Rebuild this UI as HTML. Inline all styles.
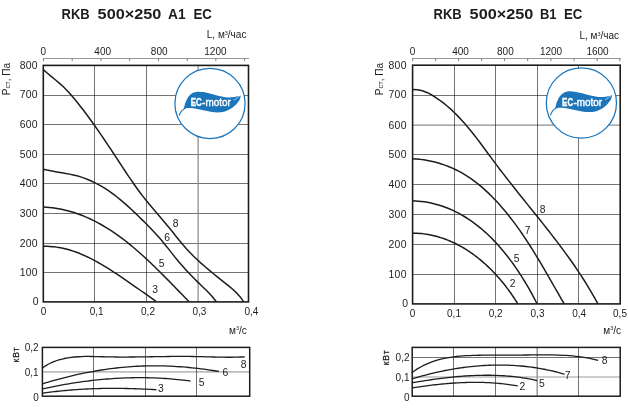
<!DOCTYPE html>
<html lang="ru"><head><meta charset="utf-8"><title>RKB 500×250 EC</title>
<style>html,body{margin:0;padding:0;background:#fff}body{width:628px;height:409px;overflow:hidden}svg{display:block}text{font-family:"Liberation Sans", sans-serif}</style>
</head><body>
<svg width="628" height="409" viewBox="0 0 628 409">
<rect width="628" height="409" fill="#fff"/>
<text y="19" font-size="14.4" font-weight="bold" fill="#1d1d1b"><tspan x="61.60" textLength="28.1" lengthAdjust="spacingAndGlyphs">RKB</tspan> <tspan x="97.60" textLength="63.8" lengthAdjust="spacingAndGlyphs">500×250</tspan> <tspan x="168.00" textLength="17.6" lengthAdjust="spacingAndGlyphs">A1</tspan> <tspan x="193.50" textLength="18.4" lengthAdjust="spacingAndGlyphs">EC</tspan></text>
<text x="246.40" y="38.30" font-size="10" text-anchor="end" font-weight="normal" fill="#1d1d1b">L, м<tspan font-size="5.5" dy="-3.2">3</tspan><tspan dy="3.2">/час</tspan></text>
<line x1="42.90" y1="58.50" x2="249.10" y2="58.50" stroke="#7a7a7a" stroke-width="0.8"/>
<line x1="43.50" y1="58.50" x2="43.50" y2="61.20" stroke="#707070" stroke-width="0.9"/>
<line x1="72.20" y1="58.50" x2="72.20" y2="61.20" stroke="#707070" stroke-width="0.9"/>
<line x1="101.00" y1="58.50" x2="101.00" y2="61.20" stroke="#707070" stroke-width="0.9"/>
<line x1="129.70" y1="58.50" x2="129.70" y2="61.20" stroke="#707070" stroke-width="0.9"/>
<line x1="158.50" y1="58.50" x2="158.50" y2="61.20" stroke="#707070" stroke-width="0.9"/>
<line x1="187.20" y1="58.50" x2="187.20" y2="61.20" stroke="#707070" stroke-width="0.9"/>
<line x1="215.80" y1="58.50" x2="215.80" y2="61.20" stroke="#707070" stroke-width="0.9"/>
<line x1="244.50" y1="58.50" x2="244.50" y2="61.20" stroke="#707070" stroke-width="0.9"/>
<text x="43.30" y="55.00" font-size="10" text-anchor="middle" font-weight="normal" fill="#1d1d1b">0</text>
<text x="102.70" y="55.00" font-size="10" text-anchor="middle" font-weight="normal" fill="#1d1d1b">400</text>
<text x="159.20" y="55.00" font-size="10" text-anchor="middle" font-weight="normal" fill="#1d1d1b">800</text>
<text x="215.40" y="55.00" font-size="10" text-anchor="middle" font-weight="normal" fill="#1d1d1b">1200</text>
<line x1="43.30" y1="95.50" x2="248.50" y2="95.50" stroke="#000" stroke-width="1" stroke-opacity="0.55"/>
<line x1="43.30" y1="124.50" x2="248.50" y2="124.50" stroke="#000" stroke-width="1" stroke-opacity="0.55"/>
<line x1="43.30" y1="154.50" x2="248.50" y2="154.50" stroke="#000" stroke-width="1" stroke-opacity="0.55"/>
<line x1="43.30" y1="183.50" x2="248.50" y2="183.50" stroke="#000" stroke-width="1" stroke-opacity="0.55"/>
<line x1="43.30" y1="213.50" x2="248.50" y2="213.50" stroke="#000" stroke-width="1" stroke-opacity="0.55"/>
<line x1="43.30" y1="243.50" x2="248.50" y2="243.50" stroke="#000" stroke-width="1" stroke-opacity="0.55"/>
<line x1="43.30" y1="272.50" x2="248.50" y2="272.50" stroke="#000" stroke-width="1" stroke-opacity="0.55"/>
<line x1="94.50" y1="65.40" x2="94.50" y2="301.90" stroke="#000" stroke-width="1" stroke-opacity="0.55"/>
<line x1="146.50" y1="65.40" x2="146.50" y2="301.90" stroke="#000" stroke-width="1" stroke-opacity="0.55"/>
<line x1="198.10" y1="65.40" x2="198.10" y2="301.90" stroke="#8f8f8f" stroke-width="1.3"/>
<g>
<circle cx="210.00" cy="103.40" r="35.10" fill="#fff" stroke="#1b75bb" stroke-width="1.25"/>
<g transform="translate(210.00 103.40)">
<path d="M-26.30 5.60C-26.03 4.60 -25.47 1.62 -24.70 -0.40C-23.93 -2.42 -22.92 -4.85 -21.70 -6.50C-20.48 -8.15 -18.92 -9.43 -17.40 -10.30C-15.88 -11.17 -14.42 -11.53 -12.60 -11.70C-10.78 -11.87 -8.72 -11.63 -6.50 -11.30C-4.28 -10.97 -1.72 -10.30 0.70 -9.70C3.12 -9.10 5.57 -8.28 8.00 -7.70C10.43 -7.12 12.83 -6.47 15.25 -6.20C17.67 -5.93 20.38 -5.95 22.50 -6.10C24.62 -6.25 26.60 -6.78 28.00 -7.10C29.40 -7.42 30.42 -7.85 30.90 -8.00C30.63 -7.20 30.25 -4.85 29.30 -3.20C28.35 -1.55 26.70 0.42 25.20 1.90C23.70 3.38 22.17 4.62 20.30 5.70C18.43 6.78 16.05 7.85 14.00 8.40C11.95 8.95 10.22 9.00 8.00 9.00C5.78 9.00 3.12 8.75 0.70 8.40C-1.72 8.05 -4.08 7.40 -6.50 6.90C-8.92 6.40 -11.58 5.77 -13.80 5.40C-16.02 5.03 -18.10 4.78 -19.80 4.70C-21.50 4.62 -22.92 4.75 -24.00 4.90C-25.08 5.05 -25.92 5.48 -26.30 5.60Z" fill="#1b75bb"/>
<path d="M-30.8 11.9C-29.6 8.6 -27.6 6.2 -24.5 4.6" fill="none" stroke="#1b75bb" stroke-width="1.1" stroke-linecap="round"/>
<path d="M23.6 -3.2C26 -4.6 27.8 -5.8 29.6 -7.2" fill="none" stroke="#fff" stroke-width="0.6"/>
<text x="-19.3" y="2.5" font-size="10" font-weight="bold" fill="#fff" stroke="#fff" stroke-width="0.35" textLength="11" lengthAdjust="spacingAndGlyphs">EC</text>
<text x="-7.9" y="2.5" font-size="10" fill="#fff" stroke="#fff" stroke-width="0.4" textLength="28.6" lengthAdjust="spacingAndGlyphs">-motor</text>
</g></g>
<rect x="43.30" y="65.40" width="205.20" height="236.50" fill="none" stroke="#1d1d1b" stroke-width="1.6"/>
<text x="37.90" y="69.40" font-size="10.4" text-anchor="end" font-weight="normal" fill="#1d1d1b" letter-spacing="0.25">800</text>
<text x="37.90" y="98.40" font-size="10.4" text-anchor="end" font-weight="normal" fill="#1d1d1b" letter-spacing="0.25">700</text>
<text x="37.90" y="128.00" font-size="10.4" text-anchor="end" font-weight="normal" fill="#1d1d1b" letter-spacing="0.25">600</text>
<text x="37.90" y="157.80" font-size="10.4" text-anchor="end" font-weight="normal" fill="#1d1d1b" letter-spacing="0.25">500</text>
<text x="37.90" y="187.00" font-size="10.4" text-anchor="end" font-weight="normal" fill="#1d1d1b" letter-spacing="0.25">400</text>
<text x="37.90" y="216.60" font-size="10.4" text-anchor="end" font-weight="normal" fill="#1d1d1b" letter-spacing="0.25">300</text>
<text x="37.90" y="246.80" font-size="10.4" text-anchor="end" font-weight="normal" fill="#1d1d1b" letter-spacing="0.25">200</text>
<text x="37.90" y="276.10" font-size="10.4" text-anchor="end" font-weight="normal" fill="#1d1d1b" letter-spacing="0.25">100</text>
<text x="38.90" y="304.90" font-size="10.4" text-anchor="end" font-weight="normal" fill="#1d1d1b" letter-spacing="0.25">0</text>
<text transform="translate(9.60 95.20) rotate(-90)" font-size="10" fill="#1d1d1b">P<tspan font-size="7.5">ст</tspan>, Па</text>
<text x="43.50" y="315.00" font-size="10" text-anchor="middle" font-weight="normal" fill="#1d1d1b">0</text>
<text x="96.60" y="315.00" font-size="10" text-anchor="middle" font-weight="normal" fill="#1d1d1b">0,1</text>
<text x="148.00" y="315.00" font-size="10" text-anchor="middle" font-weight="normal" fill="#1d1d1b">0,2</text>
<text x="199.40" y="315.00" font-size="10" text-anchor="middle" font-weight="normal" fill="#1d1d1b">0,3</text>
<text x="251.40" y="315.00" font-size="10" text-anchor="middle" font-weight="normal" fill="#1d1d1b">0,4</text>
<text x="246.80" y="333.60" font-size="10" text-anchor="end" font-weight="normal" fill="#1d1d1b">м<tspan font-size="5.5" dy="-3.2">3</tspan><tspan dy="3.2">/с</tspan></text>
<path d="M43.23 69.57L47.18 73.03L51.21 76.39L55.27 79.72L59.26 83.08L63.13 86.56L66.80 90.24L70.29 94.09L73.68 98.05L77.00 102.08L80.26 106.17L83.47 110.31L86.63 114.50L89.74 118.73L92.81 122.99L95.84 127.28L98.83 131.58L101.79 135.90L104.73 140.23L107.64 144.57L110.53 148.92L113.41 153.28L116.29 157.64L119.16 162.01L122.03 166.37L124.90 170.73L127.79 175.09L130.71 179.43L133.68 183.73L136.69 188.00L139.78 192.22L142.95 196.37L146.20 200.46L149.52 204.49L152.89 208.50L156.29 212.48L159.70 216.45L163.10 220.43L166.47 224.44L169.79 228.49L173.07 232.57L176.33 236.66L179.62 240.73L182.96 244.74L186.39 248.67L189.94 252.49L193.60 256.19L197.37 259.80L201.22 263.33L205.15 266.78L209.14 270.17L213.19 273.51L217.27 276.81L221.37 280.08L225.49 283.34L229.57 286.63L233.53 290.04L237.27 293.66L240.71 297.57L243.76 301.87" fill="none" stroke="#1d1d1b" stroke-width="1.5" stroke-linecap="butt" stroke-linejoin="round"/>
<path d="M43.25 169.22L46.93 170.09L50.65 170.85L54.41 171.53L58.19 172.16L61.98 172.78L65.77 173.42L69.54 174.13L73.27 174.92L76.97 175.83L80.62 176.90L84.20 178.11L87.74 179.47L91.22 180.96L94.64 182.58L98.00 184.33L101.30 186.19L104.55 188.16L107.73 190.24L110.86 192.40L113.94 194.66L116.96 196.99L119.94 199.39L122.88 201.85L125.78 204.36L128.64 206.93L131.46 209.52L134.26 212.15L137.03 214.80L139.77 217.46L142.49 220.12L145.19 222.80L147.86 225.48L150.50 228.19L153.11 230.92L155.68 233.68L158.20 236.49L160.68 239.34L163.12 242.24L165.51 245.18L167.87 248.15L170.22 251.14L172.58 254.13L174.95 257.11L177.35 260.07L179.80 262.99L182.30 265.86L184.84 268.70L187.43 271.50L190.05 274.26L192.71 277.00L195.39 279.70L198.11 282.37L200.84 285.02L203.58 287.67L206.29 290.34L208.95 293.05L211.53 295.82L214.00 298.70L216.32 301.70" fill="none" stroke="#1d1d1b" stroke-width="1.5" stroke-linecap="butt" stroke-linejoin="round"/>
<path d="M43.04 206.98L46.20 207.17L49.33 207.44L52.43 207.79L55.49 208.22L58.52 208.72L61.52 209.30L64.50 209.96L67.44 210.68L70.35 211.47L73.23 212.33L76.09 213.25L78.91 214.24L81.71 215.29L84.48 216.41L87.23 217.58L89.94 218.80L92.64 220.09L95.31 221.42L97.95 222.81L100.57 224.25L103.16 225.74L105.73 227.27L108.28 228.85L110.81 230.48L113.31 232.14L115.79 233.85L118.26 235.59L120.70 237.37L123.12 239.18L125.52 241.03L127.90 242.91L130.27 244.82L132.61 246.76L134.94 248.72L137.25 250.71L139.54 252.72L141.82 254.75L144.08 256.80L146.33 258.87L148.56 260.95L150.78 263.05L152.98 265.17L155.17 267.29L157.35 269.42L159.51 271.56L161.66 273.70L163.80 275.85L165.93 278.00L168.05 280.15L170.16 282.31L172.26 284.45L174.35 286.60L176.43 288.73L178.50 290.86L180.56 292.98L182.62 295.09L184.67 297.18L186.71 299.26L188.75 301.32" fill="none" stroke="#1d1d1b" stroke-width="1.5" stroke-linecap="butt" stroke-linejoin="round"/>
<path d="M43.20 246.30L45.45 246.29L47.69 246.34L49.90 246.46L52.10 246.63L54.28 246.85L56.45 247.13L58.59 247.46L60.72 247.84L62.84 248.27L64.94 248.75L67.02 249.27L69.09 249.84L71.14 250.46L73.18 251.11L75.20 251.80L77.21 252.54L79.21 253.31L81.20 254.12L83.17 254.96L85.13 255.83L87.08 256.73L89.02 257.67L90.95 258.63L92.87 259.62L94.78 260.64L96.68 261.68L98.56 262.74L100.45 263.82L102.32 264.92L104.18 266.04L106.04 267.17L107.89 268.32L109.73 269.48L111.57 270.66L113.40 271.84L115.23 273.04L117.05 274.24L118.86 275.45L120.67 276.66L122.48 277.88L124.28 279.11L126.07 280.34L127.86 281.57L129.65 282.81L131.43 284.05L133.21 285.29L134.98 286.53L136.75 287.77L138.52 289.01L140.28 290.25L142.04 291.49L143.80 292.73L145.56 293.96L147.31 295.19L149.05 296.42L150.80 297.64L152.54 298.85L154.28 300.06L156.02 301.26" fill="none" stroke="#1d1d1b" stroke-width="1.5" stroke-linecap="butt" stroke-linejoin="round"/>
<text x="175.60" y="226.70" font-size="10.3" text-anchor="middle" font-weight="normal" fill="#1d1d1b">8</text>
<text x="167.10" y="240.50" font-size="10.3" text-anchor="middle" font-weight="normal" fill="#1d1d1b">6</text>
<text x="161.70" y="266.70" font-size="10.3" text-anchor="middle" font-weight="normal" fill="#1d1d1b">5</text>
<text x="155.00" y="293.20" font-size="10.3" text-anchor="middle" font-weight="normal" fill="#1d1d1b">3</text>
<line x1="42.40" y1="371.90" x2="249.70" y2="371.90" stroke="#bdbdbd" stroke-width="1.6"/>
<line x1="93.50" y1="347.40" x2="93.50" y2="396.20" stroke="#000" stroke-width="1" stroke-opacity="0.55"/>
<line x1="145.50" y1="347.40" x2="145.50" y2="396.20" stroke="#000" stroke-width="1" stroke-opacity="0.55"/>
<line x1="196.50" y1="347.40" x2="196.50" y2="396.20" stroke="#000" stroke-width="1" stroke-opacity="0.55"/>
<rect x="42.40" y="347.40" width="207.30" height="48.80" fill="none" stroke="#1d1d1b" stroke-width="1.5"/>
<text x="38.70" y="351.40" font-size="10" text-anchor="end" font-weight="normal" fill="#1d1d1b">0,2</text>
<text x="38.70" y="375.80" font-size="10" text-anchor="end" font-weight="normal" fill="#1d1d1b">0,1</text>
<text x="38.70" y="401.00" font-size="10" text-anchor="end" font-weight="normal" fill="#1d1d1b">0</text>
<text transform="translate(18.80 362.50) rotate(-90)" font-size="8.6" letter-spacing="0.9" stroke="#1d1d1b" stroke-width="0.3" fill="#1d1d1b">кВт</text>
<path d="M42.21 368.12L45.16 366.07L48.21 364.28L51.33 362.72L54.53 361.38L57.78 360.24L61.09 359.29L64.43 358.51L67.81 357.87L71.21 357.38L74.63 357.00L78.07 356.74L81.53 356.56L85.00 356.47L88.49 356.45L91.98 356.48L95.48 356.54L98.99 356.63L102.49 356.73L105.99 356.83L109.49 356.91L112.98 356.97L116.47 357.01L119.95 357.03L123.43 357.04L126.90 357.04L130.37 357.02L133.84 356.99L137.30 356.96L140.77 356.91L144.23 356.86L147.69 356.81L151.15 356.76L154.60 356.70L158.06 356.64L161.52 356.59L164.97 356.54L168.43 356.50L171.89 356.46L175.35 356.43L178.82 356.42L182.28 356.41L185.75 356.42L189.22 356.45L192.69 356.49L196.17 356.55L199.65 356.63L203.14 356.72L206.63 356.81L210.11 356.91L213.60 357.01L217.08 357.10L220.57 357.17L224.05 357.22L227.52 357.24L230.99 357.24L234.45 357.20L237.90 357.11L241.35 356.98L244.78 356.79" fill="none" stroke="#1d1d1b" stroke-width="1.3" stroke-linecap="butt" stroke-linejoin="round"/>
<path d="M42.54 383.81L45.43 382.92L48.34 382.06L51.25 381.21L54.17 380.38L57.09 379.57L60.01 378.79L62.94 378.02L65.88 377.27L68.82 376.54L71.77 375.84L74.72 375.16L77.68 374.49L80.64 373.85L83.60 373.23L86.57 372.64L89.54 372.07L92.52 371.52L95.49 370.99L98.48 370.49L101.46 370.01L104.45 369.55L107.45 369.12L110.44 368.72L113.44 368.34L116.44 367.98L119.44 367.65L122.45 367.35L125.46 367.07L128.47 366.82L131.48 366.60L134.50 366.40L137.51 366.23L140.53 366.09L143.55 365.98L146.57 365.89L149.59 365.84L152.61 365.81L155.64 365.81L158.66 365.83L161.68 365.88L164.71 365.96L167.73 366.07L170.75 366.20L173.78 366.35L176.80 366.53L179.82 366.74L182.84 366.97L185.86 367.22L188.88 367.50L191.89 367.80L194.91 368.12L197.92 368.46L200.92 368.83L203.93 369.22L206.93 369.63L209.93 370.06L212.93 370.51L215.92 370.99L218.91 371.48" fill="none" stroke="#1d1d1b" stroke-width="1.3" stroke-linecap="butt" stroke-linejoin="round"/>
<path d="M42.53 388.89L44.99 388.34L47.46 387.81L49.94 387.30L52.41 386.79L54.89 386.30L57.37 385.81L59.85 385.35L62.34 384.89L64.83 384.45L67.31 384.02L69.81 383.60L72.30 383.20L74.79 382.81L77.29 382.43L79.79 382.07L82.29 381.72L84.79 381.38L87.30 381.06L89.80 380.75L92.31 380.46L94.82 380.18L97.32 379.91L99.84 379.66L102.35 379.42L104.86 379.20L107.37 378.99L109.89 378.80L112.40 378.62L114.92 378.46L117.44 378.31L119.96 378.18L122.48 378.06L125.00 377.96L127.52 377.87L130.04 377.80L132.56 377.74L135.08 377.70L137.60 377.68L140.12 377.67L142.64 377.68L145.17 377.70L147.69 377.74L150.21 377.80L152.73 377.87L155.25 377.96L157.77 378.07L160.30 378.19L162.82 378.33L165.34 378.49L167.86 378.66L170.38 378.86L172.89 379.06L175.41 379.29L177.93 379.53L180.45 379.80L182.96 380.07L185.48 380.37L187.99 380.69L190.50 381.02" fill="none" stroke="#1d1d1b" stroke-width="1.3" stroke-linecap="butt" stroke-linejoin="round"/>
<path d="M42.50 393.25L44.42 392.97L46.34 392.70L48.26 392.44L50.18 392.19L52.10 391.95L54.02 391.71L55.94 391.48L57.86 391.27L59.79 391.06L61.71 390.86L63.64 390.67L65.56 390.48L67.49 390.31L69.42 390.14L71.35 389.98L73.27 389.83L75.20 389.69L77.13 389.55L79.06 389.42L80.99 389.30L82.92 389.19L84.85 389.08L86.79 388.99L88.72 388.90L90.65 388.81L92.58 388.74L94.52 388.67L96.45 388.61L98.38 388.56L100.32 388.51L102.25 388.47L104.18 388.43L106.12 388.41L108.05 388.38L109.99 388.37L111.92 388.36L113.86 388.36L115.79 388.36L117.73 388.38L119.66 388.39L121.60 388.41L123.53 388.44L125.47 388.48L127.40 388.52L129.34 388.56L131.27 388.61L133.21 388.67L135.14 388.73L137.07 388.80L139.01 388.87L140.94 388.95L142.87 389.03L144.81 389.12L146.74 389.22L148.67 389.31L150.60 389.42L152.54 389.52L154.47 389.64L156.40 389.75" fill="none" stroke="#1d1d1b" stroke-width="1.3" stroke-linecap="butt" stroke-linejoin="round"/>
<text x="243.70" y="368.10" font-size="10.3" text-anchor="middle" font-weight="normal" fill="#1d1d1b">8</text>
<text x="225.30" y="375.50" font-size="10.3" text-anchor="middle" font-weight="normal" fill="#1d1d1b">6</text>
<text x="201.50" y="385.60" font-size="10.3" text-anchor="middle" font-weight="normal" fill="#1d1d1b">5</text>
<text x="160.90" y="391.90" font-size="10.3" text-anchor="middle" font-weight="normal" fill="#1d1d1b">3</text>
<text y="19" font-size="14.4" font-weight="bold" fill="#1d1d1b"><tspan x="433.60" textLength="28.1" lengthAdjust="spacingAndGlyphs">RKB</tspan> <tspan x="469.60" textLength="63.8" lengthAdjust="spacingAndGlyphs">500×250</tspan> <tspan x="540.00" textLength="16.6" lengthAdjust="spacingAndGlyphs">B1</tspan> <tspan x="564.00" textLength="18.4" lengthAdjust="spacingAndGlyphs">EC</tspan></text>
<text x="619.00" y="38.80" font-size="10" text-anchor="end" font-weight="normal" fill="#1d1d1b">L, м<tspan font-size="5.5" dy="-3.2">3</tspan><tspan dy="3.2">/час</tspan></text>
<line x1="412.20" y1="58.50" x2="620.80" y2="58.50" stroke="#7a7a7a" stroke-width="0.8"/>
<line x1="412.60" y1="58.50" x2="412.60" y2="61.20" stroke="#707070" stroke-width="0.9"/>
<line x1="435.60" y1="58.50" x2="435.60" y2="61.20" stroke="#707070" stroke-width="0.9"/>
<line x1="458.60" y1="58.50" x2="458.60" y2="61.20" stroke="#707070" stroke-width="0.9"/>
<line x1="481.60" y1="58.50" x2="481.60" y2="61.20" stroke="#707070" stroke-width="0.9"/>
<line x1="504.60" y1="58.50" x2="504.60" y2="61.20" stroke="#707070" stroke-width="0.9"/>
<line x1="527.70" y1="58.50" x2="527.70" y2="61.20" stroke="#707070" stroke-width="0.9"/>
<line x1="550.90" y1="58.50" x2="550.90" y2="61.20" stroke="#707070" stroke-width="0.9"/>
<line x1="574.00" y1="58.50" x2="574.00" y2="61.20" stroke="#707070" stroke-width="0.9"/>
<line x1="597.20" y1="58.50" x2="597.20" y2="61.20" stroke="#707070" stroke-width="0.9"/>
<line x1="619.80" y1="58.50" x2="619.80" y2="61.20" stroke="#707070" stroke-width="0.9"/>
<text x="412.50" y="55.00" font-size="10" text-anchor="middle" font-weight="normal" fill="#1d1d1b">0</text>
<text x="460.60" y="55.00" font-size="10" text-anchor="middle" font-weight="normal" fill="#1d1d1b">400</text>
<text x="505.40" y="55.00" font-size="10" text-anchor="middle" font-weight="normal" fill="#1d1d1b">800</text>
<text x="551.00" y="55.00" font-size="10" text-anchor="middle" font-weight="normal" fill="#1d1d1b">1200</text>
<text x="597.50" y="55.00" font-size="10" text-anchor="middle" font-weight="normal" fill="#1d1d1b">1600</text>
<line x1="412.60" y1="95.50" x2="620.20" y2="95.50" stroke="#000" stroke-width="1" stroke-opacity="0.55"/>
<line x1="412.60" y1="125.20" x2="620.20" y2="125.20" stroke="#8f8f8f" stroke-width="1.3"/>
<line x1="412.60" y1="154.50" x2="620.20" y2="154.50" stroke="#000" stroke-width="1" stroke-opacity="0.55"/>
<line x1="412.60" y1="184.50" x2="620.20" y2="184.50" stroke="#000" stroke-width="1" stroke-opacity="0.55"/>
<line x1="412.60" y1="214.50" x2="620.20" y2="214.50" stroke="#000" stroke-width="1" stroke-opacity="0.55"/>
<line x1="412.60" y1="244.50" x2="620.20" y2="244.50" stroke="#000" stroke-width="1" stroke-opacity="0.55"/>
<line x1="412.60" y1="274.50" x2="620.20" y2="274.50" stroke="#000" stroke-width="1" stroke-opacity="0.55"/>
<line x1="454.50" y1="65.20" x2="454.50" y2="303.90" stroke="#000" stroke-width="1" stroke-opacity="0.55"/>
<line x1="495.50" y1="65.20" x2="495.50" y2="303.90" stroke="#000" stroke-width="1" stroke-opacity="0.55"/>
<line x1="537.50" y1="65.20" x2="537.50" y2="303.90" stroke="#000" stroke-width="1" stroke-opacity="0.55"/>
<line x1="578.50" y1="65.20" x2="578.50" y2="303.90" stroke="#000" stroke-width="1" stroke-opacity="0.55"/>
<g>
<circle cx="581.40" cy="103.00" r="35.10" fill="#fff" stroke="#1b75bb" stroke-width="1.25"/>
<g transform="translate(581.40 103.00)">
<path d="M-26.30 5.60C-26.03 4.60 -25.47 1.62 -24.70 -0.40C-23.93 -2.42 -22.92 -4.85 -21.70 -6.50C-20.48 -8.15 -18.92 -9.43 -17.40 -10.30C-15.88 -11.17 -14.42 -11.53 -12.60 -11.70C-10.78 -11.87 -8.72 -11.63 -6.50 -11.30C-4.28 -10.97 -1.72 -10.30 0.70 -9.70C3.12 -9.10 5.57 -8.28 8.00 -7.70C10.43 -7.12 12.83 -6.47 15.25 -6.20C17.67 -5.93 20.38 -5.95 22.50 -6.10C24.62 -6.25 26.60 -6.78 28.00 -7.10C29.40 -7.42 30.42 -7.85 30.90 -8.00C30.63 -7.20 30.25 -4.85 29.30 -3.20C28.35 -1.55 26.70 0.42 25.20 1.90C23.70 3.38 22.17 4.62 20.30 5.70C18.43 6.78 16.05 7.85 14.00 8.40C11.95 8.95 10.22 9.00 8.00 9.00C5.78 9.00 3.12 8.75 0.70 8.40C-1.72 8.05 -4.08 7.40 -6.50 6.90C-8.92 6.40 -11.58 5.77 -13.80 5.40C-16.02 5.03 -18.10 4.78 -19.80 4.70C-21.50 4.62 -22.92 4.75 -24.00 4.90C-25.08 5.05 -25.92 5.48 -26.30 5.60Z" fill="#1b75bb"/>
<path d="M-30.8 11.9C-29.6 8.6 -27.6 6.2 -24.5 4.6" fill="none" stroke="#1b75bb" stroke-width="1.1" stroke-linecap="round"/>
<path d="M23.6 -3.2C26 -4.6 27.8 -5.8 29.6 -7.2" fill="none" stroke="#fff" stroke-width="0.6"/>
<text x="-19.3" y="2.5" font-size="10" font-weight="bold" fill="#fff" stroke="#fff" stroke-width="0.35" textLength="11" lengthAdjust="spacingAndGlyphs">EC</text>
<text x="-7.9" y="2.5" font-size="10" fill="#fff" stroke="#fff" stroke-width="0.4" textLength="28.6" lengthAdjust="spacingAndGlyphs">-motor</text>
</g></g>
<rect x="412.60" y="65.20" width="207.60" height="238.70" fill="none" stroke="#1d1d1b" stroke-width="1.6"/>
<text x="406.70" y="69.40" font-size="10.4" text-anchor="end" font-weight="normal" fill="#1d1d1b" letter-spacing="0.25">800</text>
<text x="406.70" y="98.40" font-size="10.4" text-anchor="end" font-weight="normal" fill="#1d1d1b" letter-spacing="0.25">700</text>
<text x="406.70" y="128.60" font-size="10.4" text-anchor="end" font-weight="normal" fill="#1d1d1b" letter-spacing="0.25">600</text>
<text x="406.70" y="158.00" font-size="10.4" text-anchor="end" font-weight="normal" fill="#1d1d1b" letter-spacing="0.25">500</text>
<text x="406.70" y="187.90" font-size="10.4" text-anchor="end" font-weight="normal" fill="#1d1d1b" letter-spacing="0.25">400</text>
<text x="406.70" y="217.90" font-size="10.4" text-anchor="end" font-weight="normal" fill="#1d1d1b" letter-spacing="0.25">300</text>
<text x="406.70" y="247.90" font-size="10.4" text-anchor="end" font-weight="normal" fill="#1d1d1b" letter-spacing="0.25">200</text>
<text x="406.70" y="277.90" font-size="10.4" text-anchor="end" font-weight="normal" fill="#1d1d1b" letter-spacing="0.25">100</text>
<text x="408.40" y="306.60" font-size="10.4" text-anchor="end" font-weight="normal" fill="#1d1d1b" letter-spacing="0.25">0</text>
<text transform="translate(382.80 95.20) rotate(-90)" font-size="10" fill="#1d1d1b">P<tspan font-size="7.5">ст</tspan>, Па</text>
<text x="412.50" y="317.00" font-size="10" text-anchor="middle" font-weight="normal" fill="#1d1d1b">0</text>
<text x="454.00" y="317.00" font-size="10" text-anchor="middle" font-weight="normal" fill="#1d1d1b">0,1</text>
<text x="495.70" y="317.00" font-size="10" text-anchor="middle" font-weight="normal" fill="#1d1d1b">0,2</text>
<text x="537.50" y="317.00" font-size="10" text-anchor="middle" font-weight="normal" fill="#1d1d1b">0,3</text>
<text x="579.10" y="317.00" font-size="10" text-anchor="middle" font-weight="normal" fill="#1d1d1b">0,4</text>
<text x="620.00" y="317.00" font-size="10" text-anchor="middle" font-weight="normal" fill="#1d1d1b">0,5</text>
<text x="621.00" y="333.60" font-size="10" text-anchor="end" font-weight="normal" fill="#1d1d1b">м<tspan font-size="5.5" dy="-3.2">3</tspan><tspan dy="3.2">/с</tspan></text>
<path d="M412.53 89.62L417.59 89.72L422.38 90.72L426.93 92.44L431.27 94.69L435.44 97.26L439.46 100.02L443.34 102.93L447.09 105.98L450.72 109.16L454.24 112.46L457.66 115.88L460.99 119.40L464.24 123.01L467.41 126.70L470.52 130.46L473.58 134.28L476.59 138.15L479.56 142.07L482.51 146.01L485.44 149.97L488.36 153.95L491.28 157.92L494.22 161.89L497.17 165.83L500.14 169.75L503.13 173.65L506.14 177.53L509.16 181.40L512.19 185.25L515.24 189.09L518.29 192.92L521.35 196.73L524.41 200.55L527.47 204.35L530.53 208.16L533.59 211.96L536.65 215.77L539.69 219.58L542.73 223.39L545.75 227.21L548.76 231.05L551.75 234.89L554.73 238.74L557.68 242.62L560.61 246.51L563.52 250.41L566.40 254.35L569.24 258.30L572.06 262.28L574.84 266.29L577.59 270.32L580.29 274.39L582.96 278.49L585.58 282.63L588.16 286.81L590.69 291.02L593.17 295.28L595.60 299.58L597.97 303.92" fill="none" stroke="#1d1d1b" stroke-width="1.5" stroke-linecap="butt" stroke-linejoin="round"/>
<path d="M412.33 158.77L416.17 159.00L419.98 159.37L423.76 159.86L427.50 160.47L431.20 161.21L434.86 162.08L438.47 163.06L442.04 164.16L445.56 165.38L449.03 166.71L452.44 168.16L455.80 169.72L459.10 171.39L462.33 173.17L465.51 175.06L468.61 177.05L471.66 179.13L474.65 181.31L477.57 183.58L480.44 185.92L483.25 188.34L486.01 190.83L488.72 193.38L491.37 195.99L493.97 198.65L496.53 201.35L499.04 204.10L501.51 206.89L503.93 209.72L506.31 212.58L508.65 215.48L510.95 218.42L513.21 221.38L515.44 224.37L517.64 227.39L519.80 230.44L521.93 233.51L524.03 236.61L526.11 239.72L528.15 242.86L530.18 246.01L532.18 249.18L534.16 252.36L536.11 255.55L538.05 258.75L539.98 261.97L541.88 265.18L543.78 268.41L545.66 271.63L547.53 274.86L549.39 278.09L551.24 281.32L553.09 284.54L554.93 287.75L556.77 290.96L558.61 294.16L560.44 297.35L562.28 300.53L564.13 303.69" fill="none" stroke="#1d1d1b" stroke-width="1.5" stroke-linecap="butt" stroke-linejoin="round"/>
<path d="M412.26 200.81L415.31 200.94L418.32 201.15L421.30 201.45L424.24 201.84L427.15 202.30L430.02 202.85L432.86 203.47L435.67 204.18L438.44 204.95L441.18 205.80L443.89 206.73L446.56 207.72L449.20 208.78L451.81 209.91L454.38 211.11L456.92 212.37L459.43 213.69L461.90 215.07L464.35 216.52L466.76 218.01L469.14 219.57L471.48 221.18L473.80 222.84L476.08 224.55L478.33 226.31L480.55 228.12L482.74 229.97L484.90 231.87L487.02 233.81L489.12 235.80L491.18 237.82L493.22 239.88L495.22 241.97L497.19 244.10L499.14 246.26L501.05 248.46L502.93 250.68L504.79 252.93L506.61 255.21L508.40 257.51L510.17 259.83L511.90 262.18L513.61 264.54L515.28 266.92L516.93 269.32L518.55 271.74L520.14 274.16L521.70 276.60L523.23 279.05L524.74 281.50L526.22 283.97L527.66 286.43L529.09 288.90L530.48 291.37L531.84 293.84L533.18 296.31L534.49 298.78L535.78 301.24L537.03 303.69" fill="none" stroke="#1d1d1b" stroke-width="1.5" stroke-linecap="butt" stroke-linejoin="round"/>
<path d="M412.41 233.08L414.74 233.13L417.06 233.23L419.36 233.39L421.65 233.61L423.92 233.88L426.17 234.20L428.40 234.57L430.62 235.00L432.82 235.47L435.01 235.99L437.17 236.57L439.32 237.19L441.45 237.85L443.56 238.56L445.66 239.32L447.73 240.12L449.79 240.97L451.83 241.85L453.85 242.78L455.85 243.75L457.84 244.76L459.80 245.81L461.75 246.89L463.67 248.01L465.58 249.17L467.46 250.37L469.33 251.59L471.18 252.86L473.00 254.15L474.81 255.48L476.60 256.84L478.36 258.22L480.11 259.64L481.84 261.09L483.54 262.56L485.22 264.06L486.88 265.59L488.53 267.14L490.15 268.71L491.74 270.31L493.32 271.93L494.88 273.57L496.41 275.23L497.92 276.91L499.41 278.61L500.88 280.33L502.32 282.07L503.74 283.82L505.14 285.59L506.52 287.37L507.87 289.16L509.20 290.97L510.51 292.79L511.79 294.62L513.05 296.46L514.29 298.32L515.50 300.17L516.69 302.04L517.85 303.91" fill="none" stroke="#1d1d1b" stroke-width="1.5" stroke-linecap="butt" stroke-linejoin="round"/>
<text x="542.60" y="212.80" font-size="10.3" text-anchor="middle" font-weight="normal" fill="#1d1d1b">8</text>
<text x="527.70" y="233.70" font-size="10.3" text-anchor="middle" font-weight="normal" fill="#1d1d1b">7</text>
<text x="516.50" y="261.60" font-size="10.3" text-anchor="middle" font-weight="normal" fill="#1d1d1b">5</text>
<text x="512.50" y="286.60" font-size="10.3" text-anchor="middle" font-weight="normal" fill="#1d1d1b">2</text>
<line x1="412.20" y1="357.50" x2="620.20" y2="357.50" stroke="#000" stroke-width="1" stroke-opacity="0.55"/>
<line x1="412.20" y1="377.00" x2="620.20" y2="377.00" stroke="#bdbdbd" stroke-width="1.6"/>
<line x1="453.50" y1="347.40" x2="453.50" y2="396.20" stroke="#000" stroke-width="1" stroke-opacity="0.55"/>
<line x1="495.50" y1="347.40" x2="495.50" y2="396.20" stroke="#000" stroke-width="1" stroke-opacity="0.55"/>
<line x1="537.20" y1="347.40" x2="537.20" y2="396.20" stroke="#8f8f8f" stroke-width="1.4"/>
<line x1="578.50" y1="347.40" x2="578.50" y2="396.20" stroke="#000" stroke-width="1" stroke-opacity="0.55"/>
<rect x="412.20" y="347.40" width="208.00" height="48.80" fill="none" stroke="#1d1d1b" stroke-width="1.5"/>
<text x="409.50" y="361.10" font-size="10" text-anchor="end" font-weight="normal" fill="#1d1d1b">0,2</text>
<text x="409.50" y="380.60" font-size="10" text-anchor="end" font-weight="normal" fill="#1d1d1b">0,1</text>
<text x="409.50" y="401.00" font-size="10" text-anchor="end" font-weight="normal" fill="#1d1d1b">0</text>
<text transform="translate(388.60 365.30) rotate(-90)" font-size="8.6" letter-spacing="0.9" stroke="#1d1d1b" stroke-width="0.3" fill="#1d1d1b">кВт</text>
<path d="M411.87 372.73L414.59 370.74L417.36 368.91L420.17 367.24L423.03 365.70L425.92 364.31L428.86 363.05L431.84 361.91L434.84 360.89L437.89 359.98L440.96 359.17L444.05 358.46L447.18 357.85L450.32 357.32L453.49 356.86L456.68 356.48L459.88 356.17L463.09 355.91L466.32 355.70L469.55 355.54L472.79 355.41L476.04 355.32L479.29 355.25L482.53 355.20L485.78 355.16L489.02 355.14L492.27 355.13L495.51 355.12L498.75 355.12L501.99 355.12L505.22 355.12L508.46 355.12L511.69 355.11L514.92 355.10L518.14 355.08L521.37 355.05L524.59 355.02L527.81 354.98L531.02 354.95L534.24 354.91L537.45 354.89L540.67 354.87L543.88 354.87L547.09 354.88L550.30 354.91L553.51 354.96L556.71 355.04L559.92 355.14L563.12 355.28L566.33 355.46L569.53 355.69L572.72 355.96L575.92 356.29L579.11 356.68L582.30 357.13L585.48 357.64L588.66 358.23L591.84 358.90L595.01 359.65L598.18 360.48" fill="none" stroke="#1d1d1b" stroke-width="1.3" stroke-linecap="butt" stroke-linejoin="round"/>
<path d="M412.19 378.89L414.68 378.12L417.18 377.38L419.68 376.65L422.20 375.95L424.72 375.26L427.25 374.59L429.78 373.95L432.33 373.32L434.88 372.72L437.44 372.13L440.00 371.57L442.57 371.03L445.15 370.51L447.73 370.02L450.31 369.54L452.90 369.09L455.50 368.66L458.10 368.25L460.70 367.87L463.31 367.51L465.92 367.17L468.53 366.86L471.14 366.57L473.76 366.31L476.38 366.07L479.01 365.86L481.63 365.67L484.26 365.50L486.88 365.36L489.51 365.25L492.14 365.17L494.77 365.10L497.39 365.07L500.02 365.06L502.65 365.08L505.27 365.13L507.90 365.20L510.52 365.31L513.14 365.44L515.76 365.59L518.38 365.78L520.99 365.99L523.60 366.24L526.21 366.51L528.81 366.81L531.41 367.15L534.01 367.51L536.60 367.90L539.19 368.32L541.77 368.77L544.35 369.26L546.92 369.77L549.48 370.31L552.04 370.89L554.59 371.50L557.14 372.14L559.68 372.81L562.21 373.52L564.73 374.25" fill="none" stroke="#1d1d1b" stroke-width="1.3" stroke-linecap="butt" stroke-linejoin="round"/>
<path d="M412.22 382.75L414.30 382.39L416.39 382.04L418.49 381.70L420.59 381.35L422.68 381.02L424.79 380.69L426.89 380.37L429.00 380.05L431.10 379.74L433.22 379.44L435.33 379.14L437.44 378.86L439.56 378.58L441.68 378.31L443.79 378.05L445.92 377.80L448.04 377.56L450.16 377.32L452.29 377.10L454.41 376.89L456.54 376.69L458.66 376.51L460.79 376.33L462.92 376.17L465.05 376.01L467.18 375.87L469.31 375.75L471.44 375.64L473.57 375.54L475.71 375.45L477.84 375.38L479.97 375.32L482.10 375.28L484.23 375.26L486.36 375.25L488.49 375.25L490.62 375.27L492.75 375.31L494.88 375.37L497.00 375.44L499.13 375.53L501.25 375.64L503.38 375.77L505.50 375.91L507.62 376.08L509.74 376.26L511.86 376.46L513.98 376.69L516.09 376.93L518.21 377.20L520.32 377.48L522.43 377.79L524.53 378.11L526.64 378.46L528.74 378.84L530.84 379.23L532.94 379.65L535.04 380.09L537.13 380.55" fill="none" stroke="#1d1d1b" stroke-width="1.3" stroke-linecap="butt" stroke-linejoin="round"/>
<path d="M412.21 387.83L413.98 387.56L415.76 387.30L417.53 387.04L419.31 386.78L421.09 386.53L422.87 386.29L424.65 386.05L426.44 385.82L428.22 385.59L430.01 385.37L431.79 385.15L433.58 384.94L435.37 384.74L437.16 384.54L438.95 384.35L440.74 384.17L442.53 384.00L444.32 383.83L446.11 383.67L447.91 383.52L449.70 383.37L451.49 383.24L453.29 383.11L455.08 383.00L456.88 382.89L458.67 382.79L460.47 382.70L462.27 382.62L464.06 382.54L465.86 382.48L467.65 382.43L469.45 382.39L471.25 382.36L473.04 382.34L474.84 382.33L476.63 382.34L478.43 382.35L480.23 382.38L482.02 382.42L483.82 382.46L485.61 382.53L487.40 382.60L489.20 382.69L490.99 382.79L492.78 382.90L494.58 383.03L496.37 383.17L498.16 383.32L499.95 383.48L501.74 383.67L503.52 383.86L505.31 384.07L507.10 384.29L508.88 384.53L510.67 384.79L512.45 385.05L514.23 385.34L516.02 385.64L517.80 385.95" fill="none" stroke="#1d1d1b" stroke-width="1.3" stroke-linecap="butt" stroke-linejoin="round"/>
<text x="604.50" y="364.30" font-size="10.3" text-anchor="middle" font-weight="normal" fill="#1d1d1b">8</text>
<text x="567.60" y="378.50" font-size="10.3" text-anchor="middle" font-weight="normal" fill="#1d1d1b">7</text>
<text x="541.80" y="386.50" font-size="10.3" text-anchor="middle" font-weight="normal" fill="#1d1d1b">5</text>
<text x="522.40" y="389.80" font-size="10.3" text-anchor="middle" font-weight="normal" fill="#1d1d1b">2</text>
</svg></body></html>
